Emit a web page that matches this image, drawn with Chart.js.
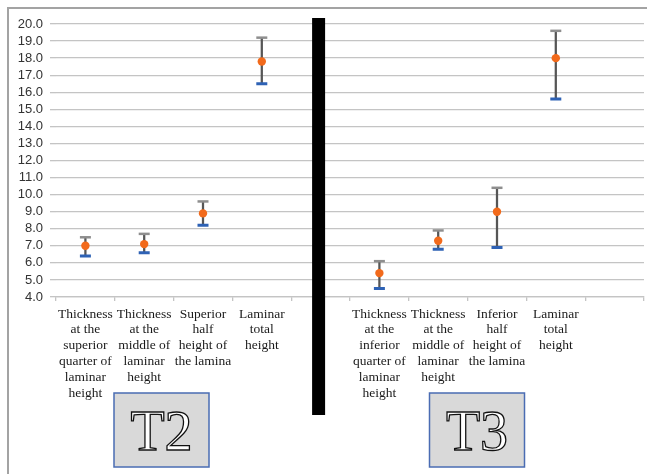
<!DOCTYPE html>
<html>
<head>
<meta charset="utf-8">
<script src="https://cdn.jsdelivr.net/npm/chart.js@4"></script>
<style>
  body { margin: 0; background: #fff; }
  canvas { display: block; }
</style>
</head>
<body>
<canvas id="chart" width="647" height="474"></canvas>
<script>
// Data
const t2Labels = [
  ['Thickness', 'at the', 'superior', 'quarter of', 'laminar', 'height'],
  ['Thickness', 'at the', 'middle of', 'laminar', 'height'],
  ['Superior', 'half', 'height of', 'the lamina'],
  ['Laminar', 'total', 'height']
];
const t3Labels = [
  ['Thickness', 'at the', 'inferior', 'quarter of', 'laminar', 'height'],
  ['Thickness', 'at the', 'middle of', 'laminar', 'height'],
  ['Inferior', 'half', 'height of', 'the lamina'],
  ['Laminar', 'total', 'height']
];
const t2High = [7.5, 7.7, 9.6, 19.2];
const t2Low = [6.4, 6.6, 8.2, 16.5];
const t2Mean = [7.0, 7.1, 8.9, 17.8];
const t3High = [6.1, 7.9, 10.4, 19.6];
const t3Low = [4.5, 6.8, 6.9, 15.6];
const t3Mean = [5.4, 7.3, 9.0, 18.0];
const groupNames = ['T2', 'T3'];

// one empty slot after each group
const labels = [...t2Labels, '', ...t3Labels, ''];
const high = [...t2High, null, ...t3High, null];
const low = [...t2Low, null, ...t3Low, null];
const mean = [...t2Mean, null, ...t3Mean, null];
const ranges = low.map((l, i) => (l === null ? null : [l, high[i]]));

const gridColor = '#c4c4c4';

// Frame, divider and group boxes
const decorations = {
  id: 'decorations',
  beforeDraw(chart) {
    const ctx = chart.ctx;
    ctx.save();
    ctx.strokeStyle = '#a3a3a3';
    ctx.lineWidth = 2;
    ctx.beginPath();
    ctx.moveTo(8, chart.height);
    ctx.lineTo(8, 8);
    ctx.lineTo(chart.width, 8);
    ctx.stroke();
    ctx.restore();
  },
  afterDraw(chart) {
    const ctx = chart.ctx;
    const x = chart.scales.x;
    ctx.save();
    // black divider in the empty slot between the groups
    const mid = x.getPixelForValue(4) - 2;
    ctx.fillStyle = '#000';
    ctx.fillRect(mid - 6.5, 18, 13, 397);

    const boxes = [161.5, 477];
    boxes.forEach((cx, i) => {
      ctx.fillStyle = '#d9d9d9';
      ctx.fillRect(cx - 47.5, 393, 95, 74);
      ctx.strokeStyle = '#4a6cb3';
      ctx.lineWidth = 1.5;
      ctx.strokeRect(cx - 47.5, 393, 95, 74);
      ctx.font = '56px "Liberation Serif"';
      ctx.textAlign = 'center';
      ctx.textBaseline = 'alphabetic';
      ctx.fillStyle = '#fff';
      ctx.fillText(groupNames[i], cx, 450);
      ctx.strokeStyle = '#111';
      ctx.lineWidth = 1.3;
      ctx.strokeText(groupNames[i], cx, 450);
    });
    ctx.restore();
  }
};

new Chart(document.getElementById('chart'), {
  type: 'bar',
  data: {
    labels: labels,
    datasets: [
      {
        label: 'range',
        data: ranges,
        backgroundColor: '#565656',
        barThickness: 1.6,
        order: 4
      },
      {
        type: 'line',
        label: 'high',
        data: high,
        showLine: false,
        pointStyle: 'line',
        pointRadius: 5.5,
        pointBorderWidth: 2.5,
        pointBorderColor: '#8e8e8e',
        order: 3
      },
      {
        type: 'line',
        label: 'low',
        data: low,
        showLine: false,
        pointStyle: 'line',
        pointRadius: 5.5,
        pointBorderWidth: 3,
        pointBorderColor: '#2e62b5',
        order: 2
      },
      {
        type: 'line',
        label: 'mean',
        data: mean,
        showLine: false,
        pointStyle: 'circle',
        pointRadius: 4.2,
        pointBackgroundColor: '#f26a1b',
        pointBorderColor: '#f26a1b',
        pointBorderWidth: 0,
        order: 1
      }
    ]
  },
  options: {
    responsive: false,
    animation: false,
    layout: { autoPadding: false, padding: { left: 8, right: 3, top: 24, bottom: 0 } },
    plugins: {
      legend: { display: false },
      tooltip: { enabled: false }
    },
    scales: {
      x: {
        offset: true,
        grid: {
          offset: true,
          drawOnChartArea: false,
          drawTicks: true,
          tickLength: 4,
          color: gridColor,
          lineWidth: 1.3
        },
        border: { display: true, color: gridColor, width: 1.3 },
        ticks: {
          autoSkip: false,
          maxRotation: 0,
          minRotation: 0,
          padding: 5,
          color: '#1a1a1a',
          font: { family: '"Liberation Serif"', size: 13.5, lineHeight: 1.18 }
        },
        afterFit(scale) { scale.height = 177; }
      },
      y: {
        min: 4,
        max: 20,
        grid: {
          color: gridColor,
          lineWidth: 1.3,
          drawTicks: true,
          tickLength: 6
        },
        border: { display: false },
        ticks: {
          stepSize: 1,
          autoSkip: false,
          padding: 7,
          color: '#333333',
          font: { family: '"Liberation Sans"', size: 13 },
          callback: (v) => v.toFixed(1)
        },
        afterFit(scale) { scale.width = 48; }
      }
    }
  },
  plugins: [decorations]
});
</script>
</body>
</html>
